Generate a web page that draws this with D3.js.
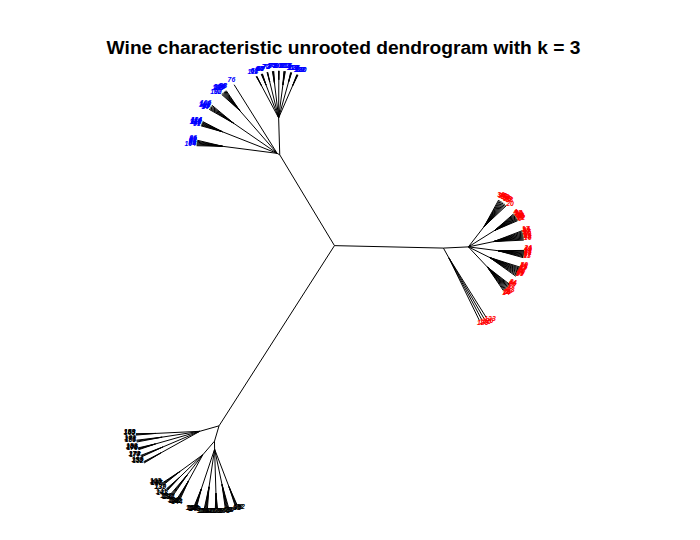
<!DOCTYPE html>
<html><head><meta charset="utf-8">
<script src="https://cdn.jsdelivr.net/npm/d3@7"></script>
<style>body{margin:0;background:#fff} svg{display:block}</style>
</head><body>
<svg id="chart" width="700" height="540"></svg>
<script>
// ---------------- data ----------------
const chartTitle = "Wine characteristic unrooted dendrogram with k = 3";
const clusterNode  = ["C1", "C2", "C3"];
const clusterColor = ["#FF0000", "#0000FF", "#000000"];

// internal nodes of the hclust tree (merge heights)
const nodeName   = ["root","RB","C3","C1","C2","R2","R1","r1a","r1b","r1c","r1d","r1e","r1f",
                    "B1","b1a","b1b","b1c","b1d","b1e","b1f","b1g","b1h",
                    "B2","b2b","b2c","b2d","b2e",
                    "K1","k1a","k1b","k1c","k1d","k1e",
                    "KD","K2","k2a","k2b","k2c","k2d",
                    "K3","k3a","k3b","k3c","k3d","k3e"];
const nodeParent = [null,"root","root","RB","RB","C1","C1","R1","R1","R1","R1","R1","R1",
                    "C2","B1","B1","B1","B1","B1","B1","B1","B1",
                    "C2","B2","B2","B2","B2",
                    "C3","K1","K1","K1","K1","K1",
                    "C3","KD","K2","K2","K2","K2",
                    "KD","K3","K3","K3","K3","K3"];
const nodeHeight = [24.4,19.0,8.4,8.1,8.4,7.0,5.6,2.8,3.2,2.6,3.0,2.5,3.0,
                    4.7,1.2,1.0,1.4,0.9,1.3,1.0,1.2,1.1,
                    8.1,2.4,2.8,2.2,2.6,
                    6.4,2.0,2.6,1.8,2.4,2.0,
                    6.8,5.0,2.2,1.8,2.5,2.0,
                    6.0,1.8,2.2,1.6,2.4,2.0];
// leaves (wine sample numbers) hanging directly from each node
const nodeLeaves = [
  [],[],[],[],[],
  [129,120,126,123],
  [],
  [14,21,5,52,7,33,18,26,44,8],
  [55,29,11,36,2,47,23,15,41,50],
  [13,57,3,31,45,9,19,42,24],
  [16,48,35,1,53,10,27,43,58,17],
  [6,22,39,46,12,56,28,34,51,4],
  [20,38,49,25,54,32,59,40,37,30],
  [],
  [68,130,128,127],[125,122,119,117],[116,115,113,112],[107,96,81],
  [79,77,75,74],[73,72,70],[67,66,65,64],[62,60,111],
  [76],
  [98,90,108,109,105,93,100,92],
  [106,103,101,99,97,94],
  [124,114,110,118,121,89,91],
  [86,80,82,83,85,88,104],
  [],
  [159,163,165],[168,171,155],[158,161,166,170],[173,174,177],[153,156,152],
  [],[],
  [162,145,147,135],[137,139,141,143],[131,132,133,134],[136,138,140,142,144],
  [],
  [150,157,146,148,149],[151,154,160,164,167],[169,172,175,176,178],[61,63,69,71,84],[87,95,102,78]
];

// ---------------- build tree ----------------
const byName = {};
nodeName.forEach((n, i) => byName[n] = {name: n, height: nodeHeight[i], children: []});
nodeName.forEach((n, i) => nodeLeaves[i].forEach(l =>
  byName[n].children.push({name: String(l), height: 0, children: []})));
nodeName.forEach((n, i) => { if (nodeParent[i]) byName[nodeParent[i]].children.push(byName[n]); });

const root = d3.hierarchy(byName.root, d => d.children.length ? d.children : null).count();

// equal-angle (unrooted) layout
const rotation = -65 * Math.PI / 180;
function place(n, a0, a1, x, y) {
  n.px = x; n.py = y;
  let a = a0;
  (n.children || []).forEach(c => {
    const w = (a1 - a0) * c.value / n.value;
    const mid = a + w / 2;
    const len = n.data.height - c.data.height;
    c.angle = mid;
    place(c, a, a + w, x + len * Math.cos(mid), y + len * Math.sin(mid));
    a += w;
  });
}
place(root, rotation, rotation + 2 * Math.PI, 0, 0);

const nodes = root.descendants();
nodes.forEach(d => {
  const c = d.ancestors().find(a => clusterNode.includes(a.data.name));
  d.color = c ? clusterColor[clusterNode.indexOf(c.data.name)] : "#000";
});

// ---------------- scales ----------------
const ppu = 10;
const [x0, x1] = d3.extent(nodes, d => d.px);
const [y0, y1] = d3.extent(nodes, d => d.py);
const cx = 330, cy = 290;
const xScale = d3.scaleLinear().domain([x0, x1]).range([cx - (x1 - x0) * ppu / 2, cx + (x1 - x0) * ppu / 2]);
const yScale = d3.scaleLinear().domain([y0, y1]).range([cy + (y1 - y0) * ppu / 2, cy - (y1 - y0) * ppu / 2]);

// ---------------- draw ----------------
const svg = d3.select("#chart");
svg.append("rect").attr("width", 700).attr("height", 540).attr("fill", "#fff");

svg.append("text")
  .attr("x", 343.5).attr("y", 54)
  .attr("text-anchor", "middle")
  .attr("font-family", "'Liberation Sans', Arial, sans-serif")
  .attr("font-weight", "bold").attr("font-size", "19.2px")
  .text(chartTitle);

svg.append("g").selectAll("line")
  .data(nodes.filter(d => d.parent))
  .join("line")
  .attr("x1", d => xScale(d.parent.px)).attr("y1", d => yScale(d.parent.py))
  .attr("x2", d => xScale(d.px)).attr("y2", d => yScale(d.py))
  .attr("stroke", "#000").attr("stroke-width", 1);

const fs = 8, squeeze = 0.86;
const lab = svg.append("g")
  .attr("font-family", "'Liberation Sans', Arial, sans-serif")
  .attr("font-style", "italic").attr("font-weight", "bold")
  .attr("font-size", fs + "px");
lab.selectAll("text")
  .data(root.leaves())
  .join("text")
  .attr("fill", d => d.color)
  .text(d => d.data.name)
  .each(function(d) {
    const a = Math.atan2(Math.sin(d.angle), Math.cos(d.angle));
    const w = this.getComputedTextLength() * squeeze;
    const h = fs * 0.72;
    const aa = Math.abs(a);
    let xa = 0, ya = 0;
    if (aa > 0.75 * Math.PI) xa = -w * 1.05;
    else if (aa > Math.PI / 4) xa = -w * (2 * aa / Math.PI - 0.5);
    if (a > Math.PI / 4 && a < 0.75 * Math.PI) ya = h / 2;
    if (a < -Math.PI / 4 && a > -0.75 * Math.PI) ya = -h * 0.75;
    d3.select(this)
      .attr("transform", `translate(${xScale(d.px) + xa},${yScale(d.py) - ya}) scale(${squeeze},1)`);
  });
</script>
</body></html>
